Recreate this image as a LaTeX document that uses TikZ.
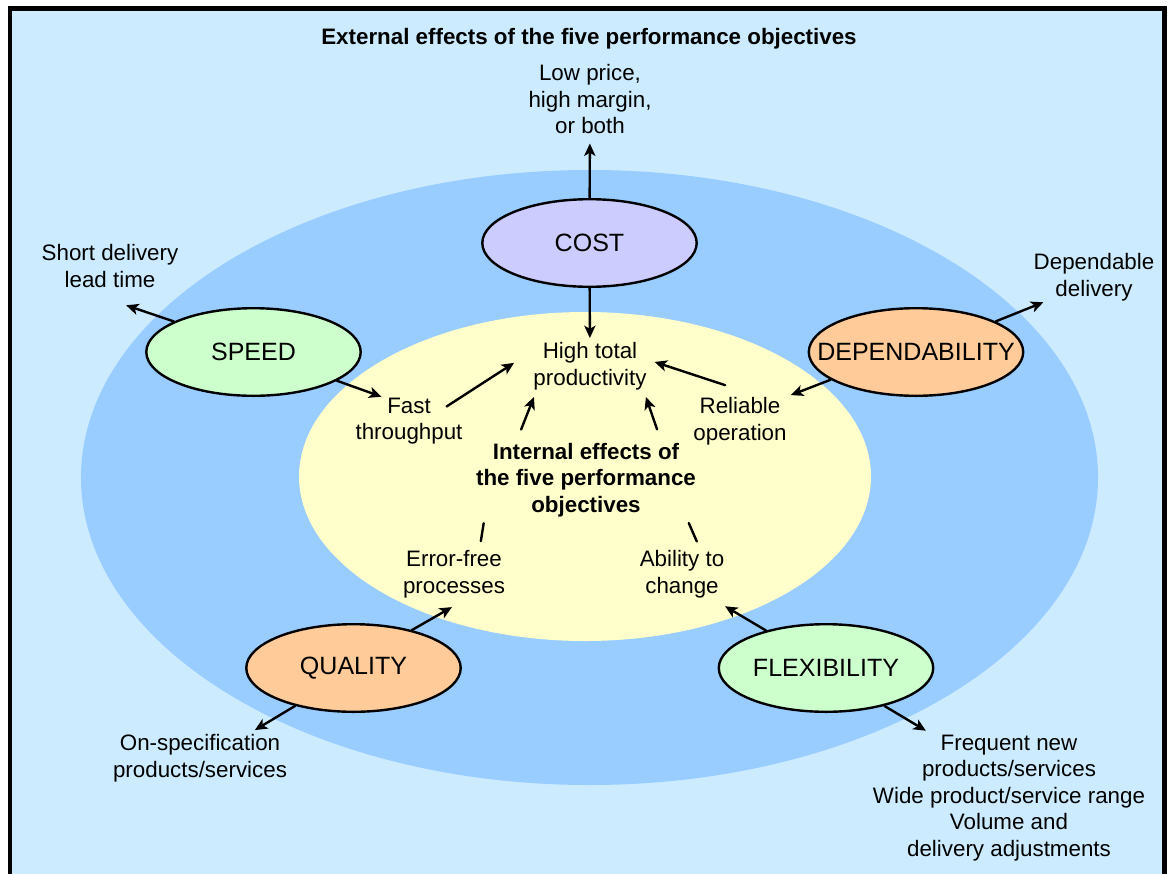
\documentclass[tikz,border=0pt]{standalone}
\usepackage{fontspec}
\setmainfont{Liberation Sans}
\usetikzlibrary{arrows.meta, shapes.geometric}
\definecolor{bgblue}{HTML}{CCEBFF}
\definecolor{ringblue}{HTML}{99CCFF}
\definecolor{coreyellow}{HTML}{FFFFCC}
\definecolor{costviolet}{HTML}{CCCCFF}
\definecolor{mintgreen}{HTML}{CCFFCC}
\definecolor{peach}{HTML}{FFCC99}

\begin{document}
\begin{tikzpicture}[x=0.25mm, y=-0.25mm,
	>={Stealth[length=3.1mm, width=2.8mm, inset=0.8mm]},
	line cap=round, line join=round,
	lbl/.style={align=center, inner sep=1mm, font=\fontsize{15.9pt}{18.85pt}\selectfont},
	head/.style={lbl, font=\fontsize{15.9pt}{18.85pt}\selectfont\bfseries},
	goal/.style={ellipse, draw, line width=0.6mm, minimum width=53.6mm,
		minimum height=21.9mm, inner sep=0pt, font=\fontsize{17.8pt}{21pt}\selectfont},
	link/.style={->, line width=0.6mm},
	stub/.style={line width=0.6mm, shorten <=0.5mm, shorten >=1.25mm}]

\useasboundingbox (0,0) rectangle (1168,873);
\clip (0,0) rectangle (1168,873);

% ===== Frame and rings =====
\draw[line width=1.15mm, line join=miter, fill=bgblue] (10,8.5) rectangle (1164.5,920);
\fill[ringblue] (589.5,477.5) ellipse [x radius=127.125mm, y radius=76.875mm];
\fill[coreyellow] (585,476.5) ellipse [x radius=71.5mm, y radius=41.125mm];

% ===== Five objectives =====
\node[goal, fill=costviolet] (cost) at (589.5,243) {COST};
\node[goal, fill=mintgreen] (speed) at (253.5,352) {SPEED};
\node[goal, fill=peach] (dep) at (916,352) {\makebox[0pt]{DEPENDABILITY}};
\node[goal, fill=peach] (quality) at (353.5,668) {QUALITY};
\node[goal, fill=mintgreen] (flex) at (826,668) {FLEXIBILITY};

% ===== External effects =====
\node[head] (ext) at (589,39) {External effects of the five performance objectives};
\node[lbl] (price) at (590,99.5) {Low price,\\high margin,\\or both};
\node[lbl] (short) at (110,266) {Short delivery\\lead time};
\node[lbl] (dependable) at (1094,277) {Dependable\\delivery};
\node[lbl] (onspec) at (200,758) {On-specification\\products/services};
\node[lbl] (frequent) at (1009,798) {Frequent new\\products/services\\Wide product/service range\\Volume and\\delivery adjustments};

% ===== Internal effects =====
\node[lbl] (high) at (590,366) {High total\\productivity};
\node[lbl] (fast) at (409,421) {Fast\\throughput};
\node[lbl] (reliable) at (740,421) {Reliable\\operation};
\node[head] (internal) at (586,480) {Internal effects of\\the five performance\\objectives};
\node[lbl] (error) at (454,574) {Error-free\\processes};
\node[lbl] (ability) at (682,574) {Ability to\\change};

% ===== Connectors =====
\draw[link, shorten >=1.25mm] (cost) -- (price);
\draw[link] (cost) -- (high);
\draw[link, shorten >=10.6mm] (speed.159) -- (short.227);
\draw[link, shorten >=-2.4mm] (speed.-19) -- (fast.143);
\draw[link, shorten <=-6mm, shorten >=4.5mm] (fast.north east) -- (high.168);
\draw[link, shorten <=6.3mm, shorten >=1mm] (reliable.72) -- (high.5);
\draw[link] (dep.198) -- (reliable.27);
\draw[link, shorten >=-1.8mm] (dep.21) -- (dependable.206);
\draw[link, shorten <=2.5mm, shorten >=0.8mm] (internal.149) -- (high.207);
\draw[link, shorten <=2.5mm, shorten >=0.8mm] (internal.29) -- (high.-27);
\draw[stub] (internal.202) -- (error.47);
\draw[stub] (internal.-22) -- (ability.59);
\draw[link, shorten >=2.6mm] (quality.33) -- (error.-76);
\draw[link] (quality.213) -- (onspec.27);
\draw[link, shorten >=2.1mm] (flex.148) -- (ability.-38);
\draw[link] (flex.-33) -- (frequent.141);

\end{tikzpicture}
\end{document}
